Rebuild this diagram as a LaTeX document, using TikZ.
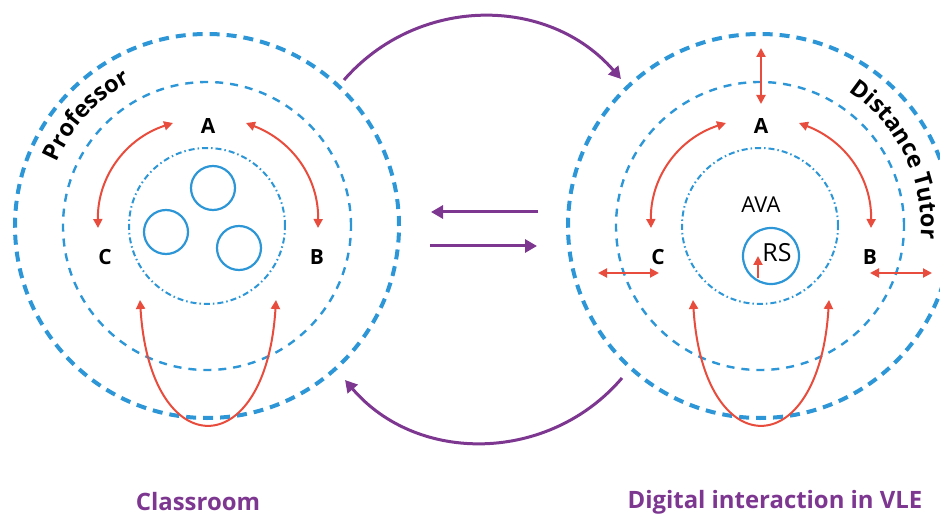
\documentclass[tikz,border=0pt]{standalone}
\usepackage{fontspec}
\setmainfont{Open Sans}
\usetikzlibrary{arrows.meta,decorations.text}
\definecolor{cblue}{RGB}{44,150,214}
\definecolor{cred}{RGB}{232,76,61}
\definecolor{cpurple}{RGB}{125,55,145}
\begin{document}
\begin{tikzpicture}[x=1bp,y=1bp,
 outerring/.style={circle,inner sep=0,minimum size=384bp,draw=cblue,line width=4bp,dash pattern=on 10bp off 7bp},
 middlering/.style={circle,inner sep=0,minimum size=288bp,draw=cblue,line width=2.4bp,dash pattern=on 8bp off 7bp},
 innerring/.style={circle,inner sep=0,minimum size=156bp,draw=cblue,line width=2bp,dash pattern=on 6bp off 3bp on 1.5bp off 3bp},
 member/.style={circle,inner sep=0,minimum size=44bp,draw=cblue,line width=2.2bp},
 link/.style={draw=cred,line width=2bp,{Triangle[length=9bp,width=9bp]}-{Triangle[length=9bp,width=9bp]}},
 onelink/.style={draw=cred,line width=2bp,-{Triangle[length=9bp,width=9bp]}},
 flow/.style={draw=cpurple,line width=3bp,-{Triangle[length=12bp,width=13bp]}},
 lbl/.style={font=\bfseries\fontsize{21}{21}\selectfont,inner sep=0},
 plain/.style={font=\fontsize{22}{22}\selectfont,inner sep=0},
 title/.style={font=\bfseries\fontsize{24}{24}\selectfont,text=cpurple,inner sep=0}
]
\useasboundingbox (0,0) rectangle (940,-515);

% ---------- left: classroom ----------
\coordinate (lc) at (207,-226);
\node[outerring] (lout) at (lc) {};
\node[middlering] (lmid) at (lc) {};
\node[innerring] (lin) at (lc) {};
\node[member] (s1) at (213,-188) {};
\node[member] (s2) at (166,-232) {};
\node[member] (s3) at (239,-248) {};
\node[lbl] (lA) at (208,-126) {A};
\node[lbl] (lC) at (105,-257) {C};
\node[lbl] (lB) at (317,-257) {B};
\coordinate (lca) at (98,-228);
\coordinate (laa) at (173,-123);
\coordinate (lab) at (246,-123);
\coordinate (lba) at (318,-228);
\coordinate (lbl) at (140,-300);
\coordinate (lbr) at (276,-300);
\draw[link] (lca) to[out=91,in=198] (laa);
\draw[link] (lab) to[out=-21,in=89] (lba);
\draw[link] (lbl) .. controls (150,-465) and (266,-465) .. (lbr);
\path[decorate,decoration={text along path,text align=center,
  text={|\bfseries\fontsize{23.5}{23.5}\selectfont|Professor}}]
  ([shift={(172:163)}]lc) arc[start angle=172,end angle=103,radius=163];
\node[title] (tl) at (198,-502) {Classroom};

% ---------- right: VLE ----------
\coordinate (rc) at (760,-226);
\node[outerring] (rout) at (rc) {};
\node[middlering] (rmid) at (rc) {};
\node[innerring] (rin) at (rc) {};
\node[member,minimum size=56bp] (rs) at (771,-256) {};
\node[plain,font=\fontsize{25}{25}\selectfont] (rst) at (777,-253) {RS};
\node[plain] (ava) at (761,-205) {AVA};
\node[lbl] (rA) at (761,-126) {A};
\node[lbl] (rC) at (658,-257) {C};
\node[lbl] (rB) at (870,-257) {B};
\coordinate (rca) at (651,-228);
\coordinate (raa) at (726,-123);
\coordinate (rab) at (799,-123);
\coordinate (rba) at (871,-228);
\coordinate (rbl) at (693,-300);
\coordinate (rbr) at (829,-300);
\draw[link] (rca) to[out=91,in=198] (raa);
\draw[link] (rab) to[out=-21,in=89] (rba);
\draw[link] (rbl) .. controls (703,-465) and (819,-465) .. (rbr);
\coordinate (rt1) at (761,-48);
\coordinate (rt2) at (761,-104);
\draw[link] (rt1) -- (rt2);
\coordinate (rl1) at (598,-273);
\coordinate (rl2) at (659,-273);
\draw[link] (rl1) -- (rl2);
\coordinate (rr1) at (870,-273);
\coordinate (rr2) at (932,-273);
\draw[link] (rr1) -- (rr2);
\coordinate (rsa) at (758,-278);
\coordinate (rsb) at (758,-256);
\draw[onelink] (rsa) -- (rsb);
\path[decorate,decoration={text along path,text align=center,
  text={|\bfseries\fontsize{23.5}{23.5}\selectfont|Distance Tutor}}]
  ([shift={(69:161)}]rc) arc[start angle=69,end angle=-17,radius=161];
\node[title] (tr) at (775,-502) {Digital interaction in VLE};

% ---------- purple flows ----------
\coordinate (p1) at (344,-80);
\coordinate (p2) at (621,-79);
\draw[flow] (p1) to[out=49,in=131,looseness=1.03] (p2);
\coordinate (p3) at (622,-378);
\coordinate (p4) at (345,-380);
\draw[flow] (p3) to[out=-130.5,in=-49.5,looseness=1.03] (p4);
\coordinate (h1) at (538,-212);
\coordinate (h2) at (431,-212);
\draw[flow] (h1) -- (h2);
\coordinate (h3) at (430,-246);
\coordinate (h4) at (537,-246);
\draw[flow] (h3) -- (h4);
\end{tikzpicture}
\end{document}
